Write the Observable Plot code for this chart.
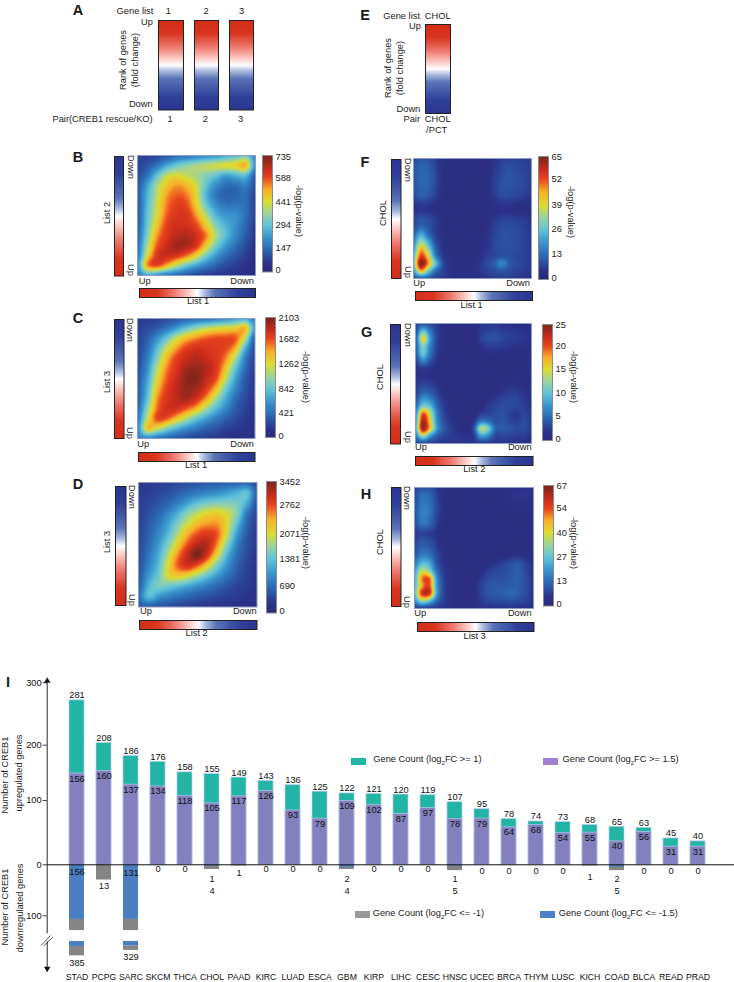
<!DOCTYPE html>
<html><head><meta charset="utf-8">
<style>
html,body{margin:0;padding:0;background:#fff}
#stage{position:relative;width:734px;height:982px;overflow:hidden;font-family:"Liberation Sans",Arial,sans-serif;color:#1a1a1a}
#stage>svg{position:absolute}
.t{position:absolute;white-space:nowrap;line-height:1}
.sw{position:absolute;width:15px;height:7px}
sub{font-size:65%;line-height:0}
</style>
<script src="https://cdn.jsdelivr.net/npm/d3@7"></script>
<script src="https://cdn.jsdelivr.net/npm/@observablehq/plot@0.6"></script>
</head><body><div id="stage"></div>
<script>
// ---------- bar chart data ----------
const tumours=["STAD","PCPG","SARC","SKCM","THCA","CHOL","PAAD","KIRC","LUAD","ESCA","GBM","KIRP","LIHC","CESC","HNSC","UCEC","BRCA","THYM","LUSC","KICH","COAD","BLCA","READ","PRAD"];
const upFC1=[281,208,186,176,158,155,149,143,136,125,122,121,120,119,107,95,78,74,73,68,65,63,45,40];
const upFC15=[156,160,137,134,118,105,117,126,93,79,109,102,87,97,78,79,64,68,54,55,40,56,31,31];
const downFC1=[385,13,329,0,0,4,1,0,0,0,4,0,0,0,5,0,0,0,0,1,5,0,0,0];
const downFC15=[156,0,131,0,0,1,0,0,0,0,2,0,0,0,1,0,0,0,0,0,2,0,0,0];

// ---------- heat map grids: % of each colour bar's maximum, top row first, left column first ----------
const gridB=[
[10,10,12,15,20,22,25,28,30,35,40,45,25],
[10,14,22,34,42,48,52,55,58,60,62,68,28],
[12,22,40,56,60,56,52,46,40,32,36,38,15],
[14,32,52,65,72,68,58,40,27,20,20,24,12],
[15,36,55,72,78,75,60,36,22,17,18,20,10],
[15,38,58,75,82,80,64,42,28,22,22,20,10],
[15,40,60,78,84,84,72,54,36,30,28,20,10],
[16,42,66,82,87,86,80,64,46,36,28,18,8],
[18,46,72,84,90,92,86,74,52,38,26,16,7],
[20,52,78,88,95,93,84,64,44,30,20,12,6],
[22,60,84,88,84,76,62,44,30,20,14,9,5],
[28,72,80,68,54,42,32,24,17,12,9,6,4],
[22,34,28,22,18,14,11,9,7,6,5,4,3]];
const gridC=[
[8,9,10,12,15,18,20,22,25,28,32,35,22],
[9,12,16,22,32,42,50,56,60,62,64,68,30],
[10,16,28,42,58,68,74,78,80,80,78,55,14],
[11,20,38,58,72,82,86,85,83,80,68,35,11],
[12,24,46,68,82,88,92,88,84,74,52,24,10],
[13,28,54,74,85,94,96,92,84,66,40,20,9],
[14,32,60,78,88,97,98,90,80,56,32,16,8],
[15,36,66,82,90,96,94,84,68,44,26,14,8],
[16,40,72,84,90,94,86,72,52,34,20,12,7],
[18,48,76,86,86,78,68,52,38,26,16,10,6],
[22,56,80,78,66,54,42,32,24,17,12,8,6],
[26,64,58,46,36,28,22,17,14,10,8,6,5],
[24,26,22,18,15,12,10,9,7,6,5,5,4]];
const gridD=[
[7,8,9,10,12,13,14,15,16,17,18,18,12],
[8,9,11,13,16,20,23,26,28,32,36,40,16],
[9,11,14,18,24,32,40,44,46,46,44,34,12],
[9,13,18,26,36,48,56,62,64,58,46,22,10],
[10,15,22,32,46,58,68,72,72,60,38,18,9],
[10,17,26,38,54,70,80,84,78,56,30,15,8],
[11,19,30,46,64,80,92,90,72,46,24,13,8],
[12,22,34,54,74,90,100,84,60,36,20,12,7],
[13,25,38,60,78,86,78,62,44,28,17,10,7],
[14,30,42,60,64,60,50,40,30,21,14,9,6],
[16,36,44,42,38,33,28,23,18,14,10,8,6],
[20,38,30,25,21,18,15,13,11,9,8,6,5],
[14,15,13,12,10,9,8,7,6,6,5,4,4]];
const gridF=[
[12,14,13,9,4,2,2,2,2,2,3,6,9,10,10,9,9],
[14,17,16,10,4,2,2,2,2,2,3,7,11,12,11,10,9],
[14,18,17,11,4,2,2,2,2,2,4,8,12,14,12,11,9],
[14,18,17,11,4,2,2,2,2,2,4,9,13,14,13,11,9],
[13,17,16,10,4,2,2,2,2,2,4,9,13,13,12,11,8],
[12,16,14,9,4,2,2,2,2,2,4,8,12,12,11,9,7],
[7,9,8,5,3,2,2,2,2,2,3,5,7,7,6,5,4],
[6,7,6,4,3,4,4,3,2,2,3,4,6,5,4,3,3],
[10,14,12,8,4,2,2,2,2,2,4,7,10,10,9,8,6],
[11,17,14,8,4,2,2,2,2,2,5,9,12,12,11,9,7],
[16,32,18,9,4,2,2,2,2,2,5,10,13,13,12,10,8],
[24,48,32,12,5,2,2,2,2,4,6,11,13,13,12,10,8],
[30,68,46,17,6,2,2,2,2,4,7,11,13,13,12,10,8],
[38,82,62,24,8,4,2,2,2,5,9,11,13,13,11,10,8],
[42,100,72,40,12,5,3,2,4,7,12,16,26,15,12,10,8],
[30,68,44,20,10,6,4,4,5,7,10,12,14,12,10,9,7],
[12,16,14,10,8,6,5,5,5,6,7,8,8,8,7,6,6]];
const gridG=[
[8,14,12,7,4,2,2,2,2,6,7,7,6,5,4,4,4],
[12,40,22,9,5,2,2,2,2,8,10,11,9,8,7,6,5],
[14,62,30,10,4,2,2,2,2,9,13,13,11,9,8,7,5],
[14,46,25,9,4,2,2,2,2,6,9,9,8,7,6,5,4],
[14,42,22,8,3,2,2,2,2,2,4,5,4,4,3,3,3],
[9,25,14,6,2,2,2,2,2,2,2,2,2,2,2,2,2],
[5,8,6,3,2,2,2,2,2,2,2,2,2,2,2,2,2],
[5,6,5,3,2,2,2,2,2,2,2,2,2,2,4,3,3],
[7,10,9,5,2,2,2,2,2,2,2,2,4,5,5,4,3],
[9,16,14,9,4,2,2,2,2,2,2,4,6,8,8,6,4],
[12,28,24,13,6,2,2,2,2,2,4,7,10,11,11,8,5],
[18,44,38,18,8,4,2,2,2,2,8,10,12,12,11,9,6],
[26,78,56,24,10,5,2,2,2,8,10,12,13,10,8,11,7],
[30,92,64,26,12,6,2,2,5,22,20,13,14,11,9,12,8],
[34,95,66,30,14,8,4,2,12,52,44,18,15,14,12,12,8],
[22,52,30,16,10,8,7,6,7,30,26,11,11,10,9,9,6],
[10,10,10,8,8,7,7,7,7,7,8,7,7,7,6,6,5]];
const gridH=[
[10,13,14,8,4,2,2,2,2,2,2,4,4,5,5,6,5],
[12,20,18,10,4,2,2,2,2,2,2,2,5,6,7,7,6],
[12,22,20,11,4,2,2,2,2,2,2,2,4,5,5,5,4],
[13,24,22,11,4,2,2,2,2,2,2,2,2,4,4,4,3],
[13,24,20,10,4,2,2,2,2,2,2,2,2,2,2,2,2],
[12,20,17,9,3,2,2,2,2,2,2,2,2,2,2,2,2],
[8,10,9,5,2,2,2,2,2,2,2,2,2,2,2,2,2],
[10,14,12,7,2,2,2,2,2,2,2,2,2,2,2,2,2],
[12,18,16,9,4,2,2,2,2,2,2,2,2,2,2,2,2],
[14,24,22,12,5,2,2,2,2,2,2,2,2,5,6,5,3],
[22,38,34,14,6,2,2,2,2,2,4,7,10,13,14,10,5],
[30,56,46,20,8,4,2,2,2,4,9,11,12,14,16,11,6],
[34,74,76,28,9,4,2,2,2,8,12,13,13,15,16,12,7],
[36,70,80,30,10,5,2,2,4,10,14,15,15,16,16,12,7],
[40,84,86,32,10,5,2,2,4,10,14,15,16,18,16,12,7],
[26,50,40,18,9,5,3,3,4,8,11,12,12,13,12,10,6],
[8,8,8,7,6,5,4,4,5,6,6,6,6,6,6,6,5]];

// ---------- colour bar tick labels ----------
const ticksB=[0,147,294,441,588,735], ticksC=[0,421,842,1262,1682,2103], ticksD=[0,690,1381,2071,2762,3452];
const ticksF=[0,13,26,39,52,65], ticksG=[0,5,10,15,20,25], ticksH=[0,13,27,40,54,67];

// ---------- colour ramps ----------
const jetStops=[0,.06,.2,.3,.4,.5,.6,.7,.8,.88,1];
const jetColours=["#2b2c7e","#2b3289","#2d6fb8","#3b98cf","#62c4d8","#9bd3a0","#dcdc30","#f8b02a","#e8441e","#cc2c1c","#7c261c"];
const rankStops=[-1,-.7,-.4,-.16,0,.12,.3,.7,1];
const rankColours=["#d52d17","#d9361f","#ee7a70","#fcc8c2","#ffffff","#aebde0","#5a74b8","#30419b","#2a3590"];
const rankColour={type:"linear",domain:rankStops,range:rankColours,clamp:true};

// ---------- page helpers ----------
const stage=document.getElementById("stage");
const FONT="Liberation Sans";
const svgStyle={background:"transparent",fontFamily:FONT,fontSize:"9.3px",overflow:"visible",maxWidth:"none",color:"#1a1a1a"};
function place(svg,x,y){svg.style.left=x+"px";svg.style.top=y+"px";stage.appendChild(svg);}
function label(str,x,y,o={}){
  const d=document.createElement("div");d.className="t";d.innerHTML=str;
  const ax={start:"0",middle:"-50%",end:"-100%"}[o.anchor||"middle"];
  d.style.left=x+"px";d.style.top=y+"px";d.style.fontSize=(o.size||9.3)+"px";
  if(o.bold)d.style.fontWeight="bold";
  d.style.transform=`translate(${ax},-50%)`+(o.rotate?` rotate(${o.rotate}deg)`:"");
  d.style.color="#1a1a1a";
  stage.appendChild(d);
}
function letter(s,x,y){label(s,x,y,{size:14.5,bold:true});}

function rankBar(x0,y0,x1,y1,dir){
  const w=x1-x0,h=y1-y0;
  const f=dir==="right"?(x,y)=>2*x-1:dir==="down"?(x,y)=>1-2*y:(x,y)=>2*y-1;
  place(Plot.plot({width:w,height:h,margin:0,style:svgStyle,
    x:{domain:[0,1],axis:null},y:{domain:[0,1],axis:null},color:rankColour,
    marks:[Plot.raster({fill:f,x1:0,x2:1,y1:0,y2:1,pixelSize:1}),Plot.frame({stroke:"#222",strokeWidth:1})]}),x0,y0);
}
function sampler(g){
  const R=g.length,C=g[0].length;
  const at=(r,c)=>g[Math.max(0,Math.min(R-1,r))][Math.max(0,Math.min(C-1,c))];
  const cr=(a,b,c,d,t)=>b+.5*t*(c-a+t*(2*a-5*b+4*c-d+t*(3*(b-c)+d-a)));
  return (u,v)=>{
    const cx=u*(C-1),cy=v*(R-1),c0=Math.floor(cx),r0=Math.floor(cy),tx=cx-c0,ty=cy-r0;
    const row=[-1,0,1,2].map(i=>cr(at(r0+i,c0-1),at(r0+i,c0),at(r0+i,c0+1),at(r0+i,c0+2),tx));
    return Math.max(0,cr(row[0],row[1],row[2],row[3],ty));
  };
}
function heat(grid,maxV,x0,y0,x1,y1){
  const s=sampler(grid);
  place(Plot.plot({width:x1-x0,height:y1-y0,margin:0,style:svgStyle,
    x:{domain:[0,1],axis:null},y:{domain:[0,1],axis:null},
    color:{type:"linear",domain:jetStops.map(t=>t*maxV),range:jetColours,clamp:true},
    marks:[Plot.raster({fill:(x,y)=>s(x,1-y)*maxV/100,x1:0,x2:1,y1:0,y2:1,pixelSize:1}),
           Plot.frame({stroke:"#8c9ac8",strokeWidth:1})]}),x0,y0);
}
// tickPx: page y of each tick label, lowest value first
function colourBar(ticks,x0,y0,x1,y1,tickPx){
  const maxV=ticks[ticks.length-1],k=maxV/(tickPx[0]-tickPx[tickPx.length-1]);
  const lo=-(y1-tickPx[0])*k,hi=maxV+(tickPx[tickPx.length-1]-y0)*k;
  place(Plot.plot({width:x1-x0+32,height:y1-y0,marginTop:0,marginBottom:0,marginLeft:0,marginRight:32,style:svgStyle,
    x:{domain:[0,1],axis:null},
    y:{type:"linear",domain:[lo,...ticks,hi],range:[y1-y0,...tickPx.map(p=>p-y0),0],axis:null},
    color:{type:"linear",domain:jetStops.map(t=>t*maxV),range:jetColours,clamp:true},
    marks:[Plot.raster({fill:(x,y)=>y,x1:0,x2:1,y1:lo,y2:hi,pixelSize:1}),
           Plot.frame({stroke:"#8a8a8a",strokeWidth:1}),
           Plot.axisY(ticks,{anchor:"right",tickSize:0,tickPadding:3,label:null,tickFormat:d=>String(d)})]}),x0,y0);
}
const logLabel=(x,y)=>label("-log(p-value)",x,y,{rotate:90});

// ---------- panel A ----------
letter("A",78,10);
label("Gene list",153.3,12,{anchor:"end"});
[[168.3,"1"],[206,"2"],[241.7,"3"]].forEach(([x,s])=>label(s,x,12));
rankBar(157.5,20,182.5,109.5,"down");rankBar(193.5,20,217.5,109.5,"down");rankBar(228.5,20,252.5,109.5,"down");
label("Up",153,23,{anchor:"end"});label("Down",152.7,105.3,{anchor:"end"});
label("Rank of genes",124,60,{rotate:-90});label("(fold change)",136,60,{rotate:-90});
label("Pair(CREB1 rescue/KO)",152.7,120,{anchor:"end"});
[[170,"1"],[205.3,"2"],[240.7,"3"]].forEach(([x,s])=>label(s,x,120));

// ---------- panel E ----------
letter("E",365,15);
label("Gene list",420,16.7,{anchor:"end"});label("CHOL",437.7,16.7);
rankBar(425,23.5,450,112.5,"down");
label("Up",421,27.3,{anchor:"end"});label("Down",420.3,109.7,{anchor:"end"});
label("Rank of genes",389.3,68,{rotate:-90});label("(fold change)",400.7,68,{rotate:-90});
label("Pair",420,120,{anchor:"end"});label("CHOL",437.7,120);label("/PCT",436.7,130.7);

// ---------- panels B C D F G H ----------
function panel(o){
  letter(o.letter,o.lx,o.ly);
  rankBar(...o.vbar,"up");
  heat(o.grid,o.ticks[o.ticks.length-1],...o.heat);
  rankBar(...o.hbar,"right");
  colourBar(o.ticks,...o.cbar,o.tickPx);
  label(o.ylab,o.ylabX,o.ylabY,{rotate:-90});
  label("Down",o.dX,o.dY,{rotate:90});label("Up",o.dX,o.uY,{rotate:90});
  label("Up",o.upX,o.rowY,{anchor:"start"});label("Down",o.downX,o.rowY,{anchor:"end"});
  label(o.xlab,o.xlabX,o.xlabY);
  logLabel(o.logX,o.logY);
}
panel({letter:"B",lx:78,ly:156.7,grid:gridB,ticks:ticksB,vbar:[113.5,155.5,122.5,275],heat:[136.5,155,254.5,275],hbar:[138.5,287.5,254.5,296.5],cbar:[261.5,154.5,271.5,271],tickPx:[268.7,246.7,224,200.7,176.7,155.7],ylab:"List 2",ylabX:108,ylabY:213,dX:130,dY:166.7,uY:270,upX:138.7,downX:254,rowY:282,xlab:"List 1",xlabX:198,xlabY:302,logX:298,logY:211});
panel({letter:"C",lx:78,ly:318,grid:gridC,ticks:ticksC,vbar:[113.5,318.5,123,437.5],heat:[137,317.5,254.5,437.5],hbar:[137.5,451.5,254,460.5],cbar:[264.5,316.5,274.5,436.5],tickPx:[435,412.3,388.3,363.3,337.7,317.3],ylab:"List 3",ylabX:108,ylabY:381.7,dX:129.3,dY:330,uY:433,upX:137.3,downX:254,rowY:445.3,xlab:"List 1",xlabX:196,xlabY:465.7,logX:305,logY:376.7});
panel({letter:"D",lx:78,ly:484,grid:gridD,ticks:ticksD,vbar:[114.5,485.5,125,604.5],heat:[137.5,481.5,256,606],hbar:[138.5,619.5,256,628.5],cbar:[266,480.5,276,612],tickPx:[610,585,558.3,532.7,504,480.7],ylab:"List 3",ylabX:108.3,ylabY:541.7,dX:130.7,dY:496.7,uY:600,upX:140,downX:256.7,rowY:611.7,xlab:"List 2",xlabX:196.7,xlabY:634.3,logX:305,logY:542.7});
panel({letter:"F",lx:365,ly:162.3,grid:gridF,ticks:ticksF,vbar:[391,158.5,400.5,277.5],heat:[412.5,157.5,530.5,277.5],hbar:[414.5,290.5,531.5,299.5],cbar:[537.5,155.5,547.5,278.5],tickPx:[276.7,253.3,228.3,204.3,177.7,156],ylab:"CHOL",ylabX:384.3,ylabY:213.3,dX:406.7,dY:170,uY:271.7,upX:413.3,downX:530,rowY:283.7,xlab:"List 1",xlabX:471.7,xlabY:306,logX:570,logY:211.7});
panel({letter:"G",lx:366.7,ly:332.3,grid:gridG,ticks:ticksG,vbar:[390,324,400,443.5],heat:[415,322.5,531,442.5],hbar:[415,455.5,532.5,464.5],cbar:[542,323.5,552,439.5],tickPx:[437.7,415.3,392.3,368.3,345,323.7],ylab:"CHOL",ylabX:381,ylabY:377.3,dX:406.7,dY:335,uY:437.3,upX:415,downX:531.7,rowY:448.3,xlab:"List 2",xlabX:474.3,xlabY:470.3,logX:573.3,logY:376.7});
panel({letter:"H",lx:366,ly:494.3,grid:gridH,ticks:ticksH,vbar:[391,487,400.5,606],heat:[413.5,486.5,532.5,607.5],hbar:[416.5,621.5,533,630.5],cbar:[543,485,553,605.5],tickPx:[603.3,580.7,556.7,532.7,507.3,486],ylab:"CHOL",ylabX:381,ylabY:542.3,dX:406,dY:498,uY:601.7,upX:414.3,downX:531.7,rowY:613.7,xlab:"List 3",xlabX:474.7,xlabY:637.3,logX:573.3,logY:542.7});

// ---------- panel I: bar chart ----------
const rows=tumours.map((t,i)=>({t,total:upFC1[i],strong:upFC15[i],any:downFC1[i],sd:downFC15[i]}));
const TEAL="#22b5a5",PURPLE="#8480be",GREY="#858585",BLUE="#4c7fc0",EDGE="#b4c8e8";
const TOP=670,W=734,H=312,ZERO=194.3;
const brokenNames=["STAD","SARC"];
const small=rows.filter(d=>!brokenNames.includes(d.t));
const stubs=[
 {t:"STAD",a:0,b:46.7,fill:BLUE},{t:"STAD",a:46.7,b:56.2,fill:GREY},{t:"STAD",a:65.5,b:69.8,fill:BLUE},{t:"STAD",a:69.8,b:77.8,fill:GREY},
 {t:"SARC",a:0,b:46.7,fill:BLUE},{t:"SARC",a:46.7,b:56.2,fill:GREY},{t:"SARC",a:65.5,b:69.5,fill:BLUE},{t:"SARC",a:69.5,b:73.2,fill:GREY}];
const lowerLabels=[
 ["STAD","156",7],["STAD","385",98.3],["PCPG","13",21.7],["SARC","131",8],["SARC","329",92.3],
 ["SKCM","0",4.3],["THCA","0",4.3],["CHOL","1",14],["CHOL","4",26.7],["PAAD","1",8],["KIRC","0",4.3],["LUAD","0",4.3],["ESCA","0",4.3],
 ["GBM","2",14],["GBM","4",26.7],["KIRP","0",4.3],["LIHC","0",4.3],["CESC","0",4.3],["HNSC","1",14],["HNSC","5",26.7],
 ["UCEC","0",6.7],["BRCA","0",6.7],["THYM","0",6.7],["LUSC","0",6.7],["KICH","1",12.5],["COAD","2",14],["COAD","5",26.7],
 ["BLCA","0",6.7],["READ","0",6.7],["PRAD","0",6.7]];
const PXU=.585,PXD=1.17;
place(Plot.plot({width:W,height:H,margin:0,style:svgStyle,
  x:{type:"band",domain:tumours,range:[54.45,719.25],padding:.458,align:.5,axis:null},
  y:{type:"linear",domain:[-120,0,300],range:[ZERO+120*PXD,ZERO,ZERO-300*PXU],axis:null},
  marks:[
    Plot.barY(rows,{x:"t",y:"total",fill:TEAL,stroke:EDGE,strokeWidth:.7}),
    Plot.barY(rows,{x:"t",y:"strong",fill:PURPLE,stroke:EDGE,strokeWidth:.7}),
    Plot.barY(small.filter(d=>d.any>0),{x:"t",y1:0,y2:d=>-d.any,fill:GREY}),
    Plot.barY(small.filter(d=>d.sd>0),{x:"t",y1:0,y2:d=>-d.sd,fill:BLUE}),
    Plot.barY(stubs,{x:"t",y1:d=>-d.a,y2:d=>-d.b,fill:d=>d.fill}),
    Plot.text(rows,{x:"t",y:"total",text:d=>String(d.total),dy:-5,fill:"#111"}),
    Plot.text(rows,{x:"t",y:"strong",text:d=>String(d.strong),dy:5,fill:"#111"}),
    Plot.text(lowerLabels,{x:d=>d[0],y:d=>-d[2]/PXD,text:d=>d[1],fill:"#111"}),
    Plot.text(tumours,{x:d=>d,y:-(976.5-864.3)/PXD,text:d=>d,fill:"#111",fontSize:8.7})
  ]}),0,TOP);

// hand-drawn value axis of panel I
const AX=46.7;
place(Plot.plot({width:W,height:H,margin:0,style:svgStyle,
  x:{domain:[0,W],range:[0,W],axis:null},
  y:{type:"linear",domain:[-203,-100,0,100,200,300],range:[298,245.3,ZERO,130,74.7,12.3],axis:null},
  marks:[
    Plot.ruleY([0],{x1:AX,x2:W,stroke:"#111",strokeWidth:1}),
    Plot.ruleX([AX],{y1:-135,y2:300,stroke:"#111",strokeWidth:.9}),
    Plot.ruleX([AX],{y1:-203,y2:-151,stroke:"#111",strokeWidth:.9}),
    Plot.link([0,2.4],{x1:d=>40.7+d,x2:d=>50+d,y1:d=>d?-159:-158,y2:d=>d?-142:-138.5,stroke:"#111",strokeWidth:.7}),
    Plot.dot([303],{x:()=>AX,y:d=>d,symbol:"triangle",r:2.4,fill:"#111",stroke:"none"}),
    Plot.dot([-203],{x:()=>AX,y:d=>d,symbol:"triangle",rotate:180,r:2.4,fill:"#111",stroke:"none"}),
    Plot.ruleY([300,200,100,0,-100],{x1:AX-4,x2:AX,stroke:"#111",strokeWidth:.8}),
    Plot.text([300,200,100,0,-100],{x:()=>AX-5.5,y:d=>d,text:d=>String(Math.abs(d)),textAnchor:"end",fill:"#111"})
  ]}),0,TOP);

letter("I",8,681.7);
label("Number of CREB1",5.5,775,{rotate:-90});label("upregulated genes",20,773.3,{rotate:-90});
label("Number of CREB1",5.5,906.7,{rotate:-90});label("downregulated genes",20.7,908.3,{rotate:-90});

// legend
const swatch=(x,y,c)=>{const s=document.createElement("div");s.className="sw";s.style.left=x+"px";s.style.top=y+"px";s.style.background=c;stage.appendChild(s);};
swatch(351,757.5,TEAL);label("Gene Count (log<sub>2</sub>FC &gt;= 1)",373.3,759.5,{anchor:"start"});
swatch(543.3,757.5,"#a080d2");label("Gene Count (log<sub>2</sub>FC &gt;= 1.5)",562.5,759.5,{anchor:"start"});
swatch(355,910.5,"#999999");label("Gene Count (log<sub>2</sub>FC &lt;= -1)",372.7,914,{anchor:"start"});
swatch(539.7,910.5,"#4c80c8");label("Gene Count (log<sub>2</sub>FC &lt;= -1.5)",558.7,914,{anchor:"start"});
</script></body></html>
